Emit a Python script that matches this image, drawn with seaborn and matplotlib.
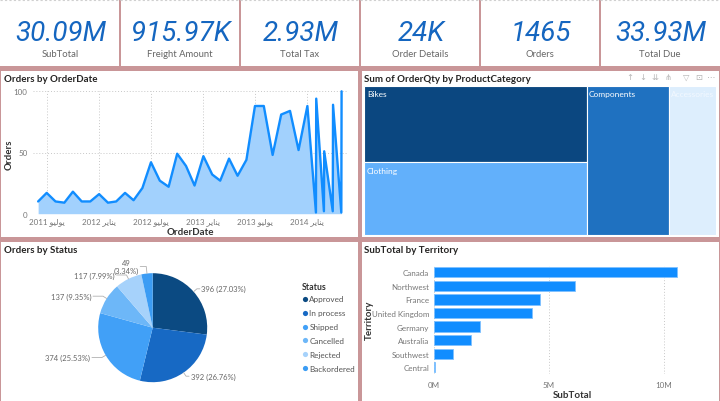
import matplotlib
matplotlib.use("Agg")
import matplotlib.pyplot as plt
import numpy as np
import pandas as pd
import seaborn as sns
from matplotlib.patches import Rectangle

# ---------------- data ----------------
kpi_values = ["30.09M", "915.97K", "2.93M", "24K", "1465", "33.93M"]
kpi_labels = ["SubTotal", "Freight Amount", "Total Tax", "Order Details", "Orders", "Total Due"]

order_dates = ["2011-06-01", "2011-07-01", "2011-08-01", "2011-09-01", "2011-10-01", "2011-11-01",
               "2011-12-01", "2012-01-01", "2012-02-01", "2012-03-01", "2012-04-01", "2012-05-01",
               "2012-06-01", "2012-07-01", "2012-08-01", "2012-09-01", "2012-10-01", "2012-11-01",
               "2012-12-01", "2013-01-01", "2013-02-01", "2013-03-01", "2013-04-01", "2013-05-01",
               "2013-06-01", "2013-07-01", "2013-08-01", "2013-09-01", "2013-10-01", "2013-11-01",
               "2013-12-01", "2014-01-01", "2014-01-31", "2014-02-01", "2014-02-28", "2014-03-01",
               "2014-03-31", "2014-04-01", "2014-04-30", "2014-05-01"]
order_counts = [10, 17, 10, 9, 18, 10, 10, 16, 9, 10, 17, 11, 21, 42, 27, 22, 49, 39, 23, 47,
                32, 27, 45, 31, 44, 88, 88, 48, 81, 84, 52, 88, 1, 94, 2, 51, 2, 89, 1, 100]

# tick labels (Arabic month names, in displayed order)
JUL = "\uFEEE\uFEF4\uFEDF\uFEEE\uFEF3"   # يوليو
JAN = "\uFEAE\uFEF3\uFE8E\uFEE8\uFEF3"   # يناير
date_ticks = ["2011-07-01", "2012-01-01", "2012-07-01", "2013-01-01", "2013-07-01", "2014-01-01"]
date_tick_labels = ["2011 " + JUL, "2012 " + JAN, "2012 " + JUL, "2013 " + JAN, "2013 " + JUL, "2014 " + JAN]

product_categories = ["Bikes", "Clothing", "Components", "Accessories"]
order_qty_share = [32.5, 30.7, 23.4, 13.4]

statuses = ["Approved", "In process", "Shipped", "Cancelled", "Rejected", "Backordered"]
status_orders = [396, 392, 374, 137, 117, 49]

territories = ["Canada", "Northwest", "France", "United Kingdom", "Germany", "Australia", "Southwest", "Central"]
territory_subtotal = [10.56e6, 6.13e6, 4.59e6, 4.26e6, 2.02e6, 1.60e6, 0.81e6, 0.04e6]

# ---------------- style ----------------
sns.set_theme(style="white")
plt.rcParams['font.family'] = ['Lato', 'DejaVu Sans']

W, H = 720, 402
BORDER = "#c99698"
TITLE_C = "#252423"
TICK_C = "#777777"
BLUE = "#118DFF"
KPI_C = "#1566c0"
status_colors = ["#0b4a82", "#1769c4", "#41a0f7", "#6db7f8", "#a6d2fb", "#3b9cf4"]
treemap_colors = ["#0b4780", "#62b0fb", "#1f71c0", "#ddeefd"]
treemap_text = ["white", "white", "white", "#f2f8ff"]

fig = plt.figure(figsize=(W / 100, H / 100), dpi=100)
fig.patch.set_facecolor("white")


def px_rect(x0, y0, x1, y1):
    return [x0 / W, 1 - y1 / H, (x1 - x0) / W, (y1 - y0) / H]


canvas = fig.add_axes([0, 0, 1, 1])
canvas.set_xlim(0, W)
canvas.set_ylim(H, 0)
canvas.axis("off")


def rect(x, y, w, h, color, **kw):
    canvas.add_patch(Rectangle((x, y), w, h, facecolor=color, edgecolor=kw.pop("ec", "none"), **kw))


# borders
canvas.plot([0, W], [0.5, 0.5], color="#d0d0d0", lw=0.8, ls=(0, (2, 2)))
rect(0, 66.5, W, 5.5, BORDER)
rect(357.5, 66.5, 4, H - 66.5, BORDER)
rect(0, 237.5, W, 5, BORDER)
for xs in [119.5, 239.5, 359.5, 479.5, 599.5]:
    rect(xs - 0.8, 0, 1.8, 67, BORDER)
rect(0, 66.5, 1.3, H, BORDER)
rect(W - 1.5, 66.5, 1.5, H, BORDER)

# KPI cards
for i, (v, lab) in enumerate(zip(kpi_values, kpi_labels)):
    cx = 61 + 120 * i
    canvas.text(cx, 40.7, v, ha="center", va="baseline", fontsize=20, color=KPI_C,
                family=["Roboto", "DejaVu Sans"], style="italic")
    canvas.text(cx - 1, 57.3, lab, ha="center", va="baseline", fontsize=6.8, color="#666666")

# titles
title_kw = dict(ha="left", va="baseline", fontsize=7, color=TITLE_C, fontweight="bold")
canvas.text(3.5, 81.7, "Orders by OrderDate", **title_kw)
canvas.text(364.5, 81.7, "Sum of OrderQty by ProductCategory", **title_kw)
canvas.text(3.5, 253.5, "Orders by Status", **title_kw)
canvas.text(364.5, 253.5, "SubTotal by Territory", **title_kw)

# treemap toolbar icons
for x, g in zip([630, 643, 655, 668, 686, 699, 711], ["↑", "↓", "⇊", "⋔", "▽", "⊡", "⋯"]):
    canvas.text(x, 77.5, g, ha="center", va="center", fontsize=6, color="#b5b5b5", family=["DejaVu Sans"])

# ---------------- treemap ----------------
tx0, ty0, tx1, ty1 = 364.3, 86.7, 716.0, 235.7
groups = [[0, 1], [2], [3]]
total = sum(order_qty_share)
x = tx0
for g in groups:
    gsum = sum(order_qty_share[k] for k in g)
    w = (tx1 - tx0) * gsum / total
    y = ty0
    for k in g:
        h = (ty1 - ty0) * order_qty_share[k] / gsum
        rect(x, y, w, h, treemap_colors[k], ec="white", lw=0.8)
        canvas.text(x + 2.5, y + 8, product_categories[k], ha="left", va="center", fontsize=6,
                    color=treemap_text[k])
        y += h
    x += w

# ---------------- pie ----------------
cx, cy, r = 152.7, 328.7, 54.5
canvas.pie(status_orders, colors=status_colors, startangle=-90, counterclock=True,
           center=(cx, cy), radius=r, frame=True, wedgeprops=dict(linewidth=0))
canvas.set_xlim(0, W)
canvas.set_ylim(H, 0)
canvas.set_aspect("auto")
canvas.axis("off")

tot = sum(status_orders)
cum = 0
for v in status_orders:
    theta = np.deg2rad((cum + v / 2) / tot * 360)
    cum += v
    s, c = np.sin(theta), np.cos(theta)
    ex, ey = cx + r * s, cy - r * c
    pct = v / tot * 100
    if s >= 0:
        bx, by = cx + r * 1.08 * s, cy - r * 1.08 * c
        hx = bx + 3
        canvas.plot([ex, bx, hx], [ey, by, by], color="#b0b0b0", lw=0.6)
        canvas.text(hx + 1.5, by, f"{v} ({pct:.2f}%)", ha="left", va="center", fontsize=5.5, color="#666666")
    elif abs(c) < 0.95:
        bx, by = cx + r * 1.08 * s, cy - r * 1.08 * c
        hx = bx - 10
        canvas.plot([ex, bx, hx], [ey, by, by], color="#b0b0b0", lw=0.6)
        canvas.text(hx - 1.5, by, f"{v} ({pct:.2f}%)", ha="right", va="center", fontsize=5.5, color="#666666")
    else:
        bx, by = cx + r * 1.13 * s, cy - r * 1.13 * c
        hx = bx - 6
        canvas.plot([ex, bx, hx], [ey, by, by], color="#b0b0b0", lw=0.6)
        canvas.text(hx - 1.0, by, f"{v}\n({pct:.2f}%)", ha="right", va="center", fontsize=5.5,
                    color="#666666", multialignment="center", linespacing=1.1)

# legend
canvas.text(302, 287.7, "Status", ha="left", va="center", fontsize=6.3, fontweight="bold", color="#333333")
for i, (st, col) in enumerate(zip(statuses, status_colors)):
    yy = 299.7 + 13.9 * i
    canvas.scatter([304.5], [yy], s=14, color=col, linewidths=0)
    canvas.text(309.3, yy, st, ha="left", va="center", fontsize=5.9, color="#555555")

# ---------------- line chart ----------------
ax1 = fig.add_axes(px_rect(33, 92.3, 347, 214.7))
ax1.set_facecolor("none")
df_orders = pd.DataFrame({"OrderDate": pd.to_datetime(order_dates), "Orders": order_counts})
ax1.fill_between(df_orders["OrderDate"], df_orders["Orders"], 0, color="#a2d1fd", lw=0, zorder=1)
sns.lineplot(data=df_orders, x="OrderDate", y="Orders", ax=ax1, color=BLUE, lw=1.7, zorder=3)
for l in ax1.lines:
    l.set_clip_on(False)
ax1.set_xlim(pd.Timestamp("2011-05-14"), pd.Timestamp("2014-05-20"))
ax1.set_ylim(0, 100)
ax1.set_yticks([0, 50, 100])
ax1.set_xticks(pd.to_datetime(date_ticks))
ax1.set_xticklabels(date_tick_labels, family=["Lato", "DejaVu Sans"])
ax1.grid(True, ls=(0, (1, 2)), color="#c8c8c8", lw=0.7, zorder=0)
ax1.set_axisbelow(True)
for sp in ax1.spines.values():
    sp.set_visible(False)
ax1.tick_params(axis="both", length=0, labelsize=5.8, labelcolor=TICK_C)
ax1.tick_params(axis="y", pad=4)
ax1.tick_params(axis="x", pad=2.5)
ax1.set_ylabel("Orders", fontsize=7, fontweight="bold", color="#333333")
ax1.set_xlabel("OrderDate", fontsize=7, fontweight="bold", color="#333333")
ax1.yaxis.set_label_coords(-0.0764, 0.488)
ax1.xaxis.set_label_coords(0.5, -0.144)
ax1.xaxis.label.set_va("center")
ax1.yaxis.label.set_va("center")

# ---------------- bar chart ----------------
ax2 = fig.add_axes(px_rect(434, 266.5, 710, 375.1))
ax2.set_facecolor("none")
df_terr = pd.DataFrame({"Territory": territories, "SubTotal": territory_subtotal})
sns.barplot(data=df_terr, x="SubTotal", y="Territory", ax=ax2, color=BLUE, width=0.76,
            orient="h", saturation=1, edgecolor="#7fc1ff", linewidth=0.6)
ax2.set_xlim(0, 12e6)
ax2.set_xticks([0, 5e6, 10e6])
ax2.set_xticklabels(["0M", "5M", "10M"])
ax2.grid(True, axis="x", ls=(0, (1, 2)), color="#c8c8c8", lw=0.7)
ax2.grid(False, axis="y")
ax2.set_axisbelow(True)
for sp in ax2.spines.values():
    sp.set_visible(False)
ax2.tick_params(axis="both", length=0, labelsize=5.8, labelcolor=TICK_C)
ax2.tick_params(axis="y", pad=3.5)
ax2.tick_params(axis="x", pad=5)
ax2.set_ylabel("Territory", fontsize=7, fontweight="bold", color="#333333")
ax2.set_xlabel("SubTotal", fontsize=7, fontweight="bold", color="#333333")
ax2.yaxis.set_label_coords(-0.234, 0.5)
ax2.xaxis.set_label_coords(0.501, -0.19)
ax2.xaxis.label.set_va("center")
ax2.yaxis.label.set_va("center")

fig.savefig("out.png", dpi=100, facecolor="white")
